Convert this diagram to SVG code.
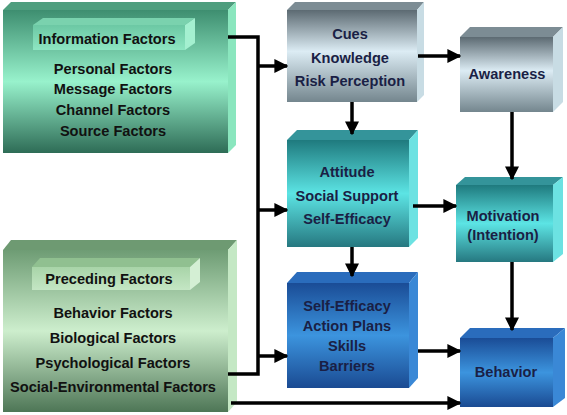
<svg xmlns="http://www.w3.org/2000/svg" width="567" height="415" viewBox="0 0 567 415">
<defs>
<linearGradient id="gInfo" x1="0" y1="0" x2="0" y2="1"><stop offset="0" stop-color="#3e8e70"/><stop offset="0.5" stop-color="#98f2cc"/><stop offset="1" stop-color="#2e6c56"/></linearGradient>
<linearGradient id="gPre" x1="0" y1="0" x2="0" y2="1"><stop offset="0" stop-color="#6e9c74"/><stop offset="0.5" stop-color="#cdeecd"/><stop offset="1" stop-color="#4e7656"/></linearGradient>
<linearGradient id="gGray" x1="0" y1="0" x2="0" y2="1"><stop offset="0" stop-color="#5c6a72"/><stop offset="0.45" stop-color="#dcecf4"/><stop offset="1" stop-color="#74868e"/></linearGradient>
<linearGradient id="gTeal" x1="0" y1="0" x2="0" y2="1"><stop offset="0" stop-color="#1f7a7e"/><stop offset="0.5" stop-color="#5ce4e4"/><stop offset="1" stop-color="#267880"/></linearGradient>
<linearGradient id="gBlue" x1="0" y1="0" x2="0" y2="1"><stop offset="0" stop-color="#1a4c96"/><stop offset="0.5" stop-color="#3c94de"/><stop offset="1" stop-color="#1a4a92"/></linearGradient>
<linearGradient id="gHInfo" x1="0" y1="0" x2="0" y2="1"><stop offset="0" stop-color="#6cc8a4"/><stop offset="1" stop-color="#8ee6c2"/></linearGradient>
<linearGradient id="gHPre" x1="0" y1="0" x2="0" y2="1"><stop offset="0" stop-color="#a8d4a8"/><stop offset="1" stop-color="#c4e6c4"/></linearGradient>
<marker id="ah" viewBox="0 0 10 10" refX="9" refY="5" markerWidth="4" markerHeight="4" markerUnits="strokeWidth" orient="auto"><path d="M0,0 L10,5 L0,10 z" fill="#000"/></marker>
</defs>
<style>
.t{font-family:"Liberation Sans",Arial,sans-serif;font-weight:bold;font-size:14.6px;text-anchor:middle;}
.l{fill:#111;}
.r{fill:#1a1f45;}
.c{fill:none;stroke:#000;stroke-width:3.5;}
.a{fill:none;stroke:#000;stroke-width:3.5;marker-end:url(#ah);}
</style>
<rect width="567" height="415" fill="#fff"/>

<g id="info">
<polygon points="3,10 11,2 236,2 228,10" fill="#4e9e7e"/>
<polygon points="228,10 236,2 236,145 228,153" fill="#8ae6be"/>
<rect x="3" y="10" width="225" height="143" fill="url(#gInfo)"/>
<polygon points="33,25 43,18 195,18 185,25" fill="#7ad2ae"/>
<polygon points="185,25 195,18 195,43 185,50" fill="#a4f0d0"/>
<rect x="33" y="25" width="152" height="25" fill="url(#gHInfo)"/>
<text class="t l" x="107" y="44">Information Factors</text>
<text class="t l" x="113" y="74">Personal Factors</text>
<text class="t l" x="113" y="94">Message Factors</text>
<text class="t l" x="113" y="115">Channel Factors</text>
<text class="t l" x="113" y="136">Source Factors</text>
</g>

<g id="preceding">
<polygon points="3,250 11,240 237,240 228,250" fill="#6e9a72"/>
<polygon points="228,250 237,240 237,402 228,412" fill="#c4e8c4"/>
<rect x="3" y="250" width="225" height="162" fill="url(#gPre)"/>
<polygon points="32,267 40,258 200,258 190,267" fill="#90c090"/>
<polygon points="190,267 200,258 200,282 190,290" fill="#d4efd4"/>
<rect x="32" y="267" width="158" height="23" fill="url(#gHPre)"/>
<text class="t l" x="109" y="284">Preceding  Factors</text>
<text class="t l" x="113" y="318">Behavior Factors</text>
<text class="t l" x="113" y="343">Biological Factors</text>
<text class="t l" x="113" y="368">Psychological Factors</text>
<text class="t l" x="113" y="392">Social-Environmental Factors</text>
</g>

<g id="cues">
<polygon points="287,10 295,2 424,2 417,10" fill="#7c8c94"/>
<polygon points="417,10 424,2 424,95 417,102" fill="#c8dce4"/>
<rect x="287" y="10" width="130" height="92" fill="url(#gGray)"/>
<text class="t r" x="350" y="39">Cues</text>
<text class="t r" x="350" y="63">Knowledge</text>
<text class="t r" x="350" y="86">Risk Perception</text>
</g>

<g id="awareness">
<polygon points="460,37 470,27 563,27 553,37" fill="#7c8c94"/>
<polygon points="553,37 563,27 563,102 553,112" fill="#c8dce4"/>
<rect x="460" y="37" width="93" height="75" fill="url(#gGray)"/>
<text class="t r" x="507" y="79">Awareness</text>
</g>

<g id="attitude">
<polygon points="287,140 297,130 418,130 409,140" fill="#34949a"/>
<polygon points="409,140 418,130 418,238 409,247" fill="#6ce2e2"/>
<rect x="287" y="140" width="122" height="107" fill="url(#gTeal)"/>
<text class="t r" x="347" y="177">Attitude</text>
<text class="t r" x="347" y="201">Social Support</text>
<text class="t r" x="347" y="224">Self-Efficacy</text>
</g>

<g id="motivation">
<polygon points="456,185 465,177 563,177 553,185" fill="#34949a"/>
<polygon points="553,185 563,177 563,254 553,262" fill="#6ce2e2"/>
<rect x="456" y="185" width="97" height="77" fill="url(#gTeal)"/>
<text class="t r" x="503" y="221">Motivation</text>
<text class="t r" x="503" y="240">(Intention)</text>
</g>

<g id="selfefficacy">
<polygon points="287,283 297,272 418,272 409,283" fill="#2a6cbc"/>
<polygon points="409,283 418,272 418,378 409,388" fill="#3a88d6"/>
<rect x="287" y="283" width="122" height="105" fill="url(#gBlue)"/>
<text class="t r" x="347" y="311">Self-Efficacy</text>
<text class="t r" x="347" y="331">Action Plans</text>
<text class="t r" x="347" y="351">Skills</text>
<text class="t r" x="347" y="371">Barriers</text>
</g>

<g id="behavior">
<polygon points="460,338 470,328 565,328 553,338" fill="#2a6cbc"/>
<polygon points="553,338 565,328 565,398 553,407" fill="#3a88d6"/>
<rect x="460" y="338" width="93" height="69" fill="url(#gBlue)"/>
<text class="t r" x="506" y="377">Behavior</text>
</g>

<g id="connectors">
<polyline class="c" points="228,37 258,37 258,374 228,374"/>
<line class="a" x1="258" y1="66" x2="287" y2="66"/>
<line class="a" x1="258" y1="210" x2="287" y2="210"/>
<line class="a" x1="258" y1="356" x2="287" y2="356"/>
<line class="a" x1="231" y1="403" x2="460" y2="403"/>
<line class="a" x1="418" y1="56" x2="460" y2="56"/>
<line class="a" x1="352" y1="102" x2="352" y2="134"/>
<line class="a" x1="512" y1="112" x2="512" y2="179"/>
<line class="a" x1="413" y1="206" x2="456" y2="206"/>
<line class="a" x1="352" y1="247" x2="352" y2="276"/>
<line class="a" x1="512" y1="262" x2="512" y2="330"/>
<line class="a" x1="418" y1="351" x2="460" y2="351"/>
</g>
</svg>
